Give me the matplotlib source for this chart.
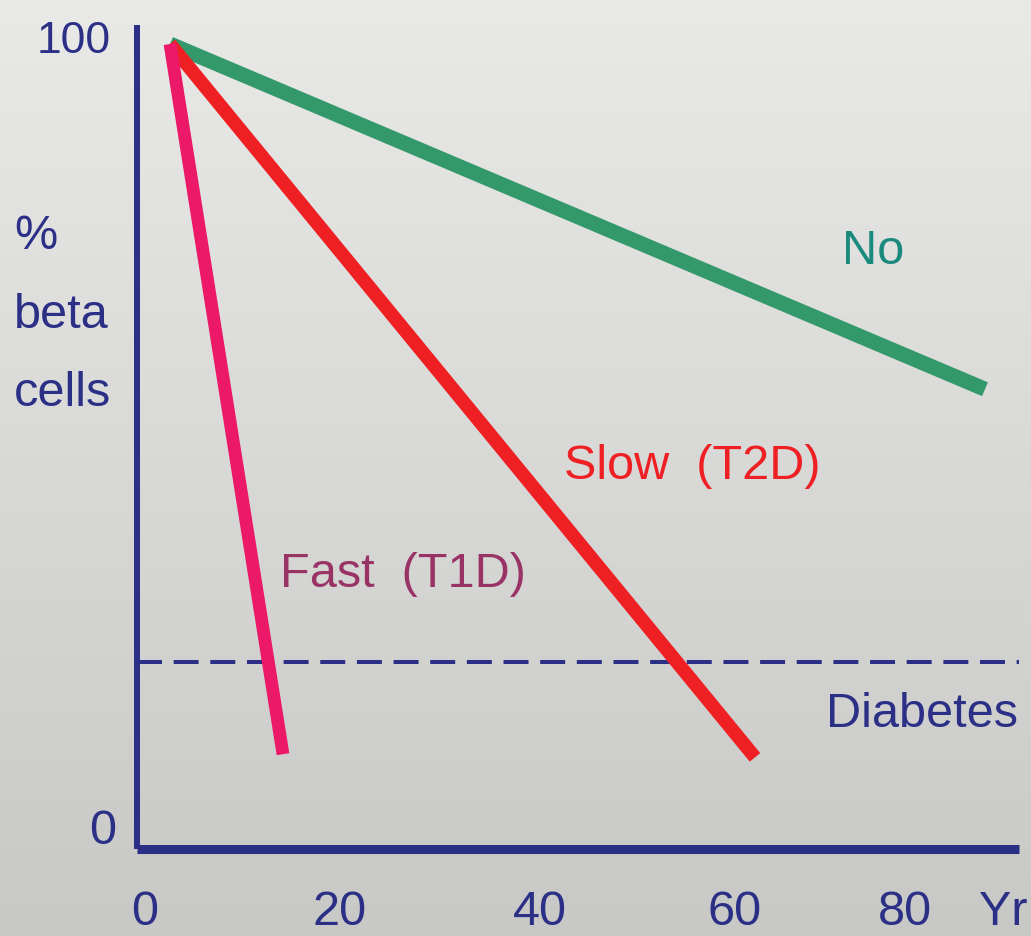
import matplotlib.pyplot as plt
import numpy as np

# data (years, % beta cells)
fast_x = [3, 14.3]
fast_y = [100, 10.1]
slow_x = [3, 61.5]
slow_y = [100, 9.7]
none_x = [3, 84.5]
none_y = [100, 56.3]
diabetes_level = 21.8

xtick_vals = [0, 20, 40, 60, 80]
xtick_pos = [0.5, 20, 40, 59.5, 76.5]   # where the labels sit in the original
ytick_vals = [0, 100]
ylabel_lines = ['%', 'beta', 'cells']

NAVY = '#2b2f86'
plt.rcParams['font.family'] = ['Liberation Sans Narrow', 'Liberation Sans', 'DejaVu Sans']

fig = plt.figure(figsize=(10.31, 9.37), dpi=100)

# grey gradient background
bg = fig.add_axes([0, 0, 1, 1])
grad = np.linspace(0, 1, 256).reshape(-1, 1)
bg.imshow(grad, aspect='auto', cmap=plt.matplotlib.colors.LinearSegmentedColormap.from_list(
    'g', ['#e9e9e8', '#c8c8c6']), extent=[0, 1, 0, 1], origin='upper')
bg.axis('off')

ax = fig.add_axes([0, 0, 1, 1])
ax.patch.set_alpha(0)
# pixel mapping: x = 140 + 10*yr, y = 835 - 7.9*pct
ax.set_xlim(-14, 89.1)
ax.set_ylim((835 - 937) / 7.9, 835 / 7.9)
ax.axis('off')

# axes lines
ax.plot([-0.3, -0.3], [-1.9, 102.4], color=NAVY, lw=4.3, solid_capstyle='butt')
ax.plot([-0.3, 87.9], [-1.9, -1.9], color=NAVY, lw=6.5, solid_capstyle='butt')

# diabetes threshold
dl, = ax.plot([-0.3, 87.9], [diabetes_level, diabetes_level], color=NAVY, lw=2.9)
dl.set_dashes([6.2, 2.9])

ax.plot(none_x, none_y, color='#33996a', lw=10.8, solid_capstyle='butt')
ax.plot(slow_x, slow_y, color='#ee2024', lw=9.8, solid_capstyle='butt')
ax.plot(fast_x, fast_y, color='#ec1868', lw=9.2, solid_capstyle='butt')

fs = 35
for v in ytick_vals:
    ax.text(-6.6 if v else -3.7, v + 0.4 if v else 0.4, str(v), color=NAVY,
            fontsize=32 if v else fs, ha='center', va='center')
for v, p in zip(xtick_vals, xtick_pos):
    ax.text(p, -9.8, str(v), color=NAVY, fontsize=fs, ha='center', va='center')
ax.text(86.3, -9.8, 'Yr', color=NAVY, fontsize=fs, ha='center', va='center')

for i, s in enumerate(ylabel_lines):
    ax.text(-12.6, 75.7 - i * 9.9, s, color=NAVY, fontsize=fs, ha='left', va='center')

ax.text(73.3, 73.8, 'No', color='#1a8a7e', fontsize=fs, ha='center', va='center')
ax.text(55.2, 46.6, 'Slow  (T2D)', color='#ee2024', fontsize=fs, ha='center', va='center')
ax.text(26.3, 33, 'Fast  (T1D)', color='#993366', fontsize=fs, ha='center', va='center')
ax.text(87.8, 15.2, 'Diabetes', color=NAVY, fontsize=fs, ha='right', va='center')

fig.savefig('out.png', dpi=100)
